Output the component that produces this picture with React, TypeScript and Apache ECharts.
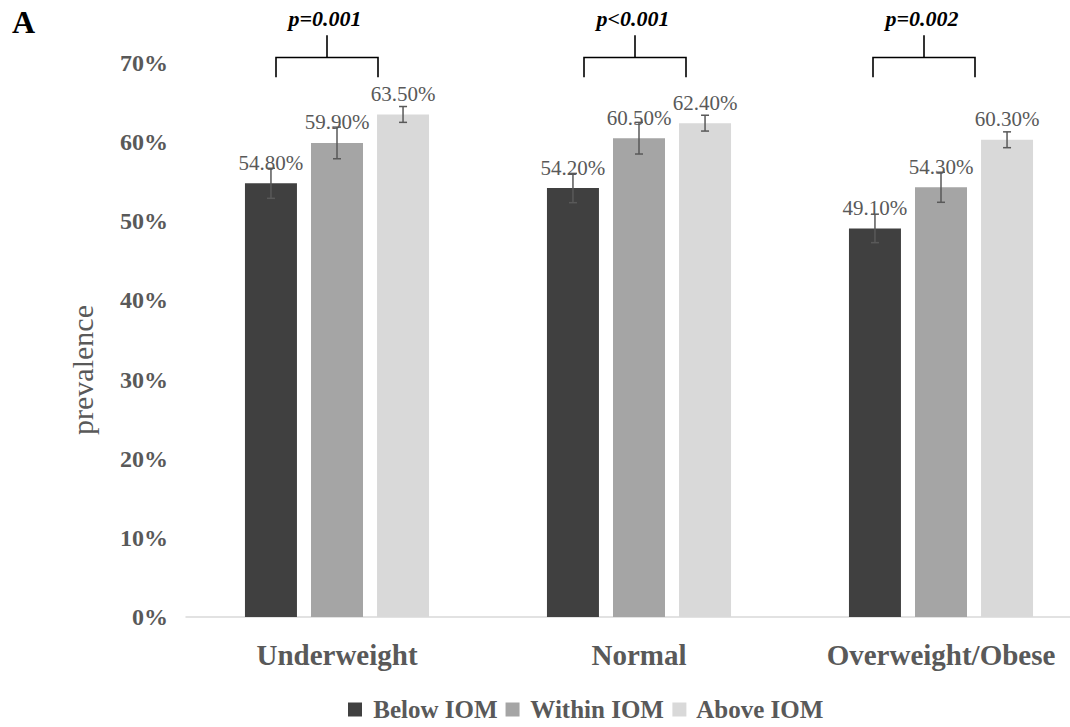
import React, { useEffect, useRef } from "react";
import * as echarts from "echarts";

const categories = ["Underweight", "Normal", "Overweight/Obese"];
const seriesNames = ["Below IOM", "Within IOM", "Above IOM"];
const belowIOM = [54.8, 54.2, 49.1];
const withinIOM = [59.9, 60.5, 54.3];
const aboveIOM = [63.5, 62.4, 60.3];
const belowErr = [1.9, 1.85, 1.8];
const withinErr = [2.0, 2.0, 1.9];
const aboveErr = [1.0, 1.0, 1.0];
const pLabels = ["p=0.001", "p<0.001", "p=0.002"];
const yTicks = [0, 10, 20, 30, 40, 50, 60, 70];

const colors = ["#404040", "#A5A5A5", "#D9D9D9"];
const SERIF = "'Liberation Serif', 'Times New Roman', 'DejaVu Serif', serif";
const BAR_W = 52;
const BAR_GAP = 0.27;
const BRACKET_SHIFT = [-10, -4, -17];

export default function App() {
  const ref = useRef<HTMLDivElement>(null);
  useEffect(() => {
    if (!ref.current) return;
    const chart = echarts.init(ref.current, undefined, { renderer: "svg" });
    const values = [belowIOM, withinIOM, aboveIOM];
    const errs = [belowErr, withinErr, aboveErr];

    const barSeries = values.map((vals, i) => ({
      name: seriesNames[i],
      type: "bar",
      data: vals,
      barWidth: BAR_W,
      barGap: BAR_GAP * 100 + "%",
      barCategoryGap: "39%",
      itemStyle: { color: colors[i] },
      label: {
        show: true,
        position: "top",
        distance: 10,
        formatter: (p: any) => p.value.toFixed(2) + "%",
        fontFamily: SERIF,
        fontSize: 21,
        color: "#595959",
      },
      z: 2,
    }));

    const errSeries = errs.map((er, i) => ({
      name: "err" + i,
      type: "custom",
      data: er.map((e, c) => [c, values[i][c], e]),
      z: 5,
      renderItem: (params: any, api: any) => {
        const c = api.value(0);
        const v = api.value(1);
        const e = api.value(2);
        const top = api.coord([c, v + e]);
        const bot = api.coord([c, v - e]);
        const x = top[0] + (i - 1) * BAR_W * (1 + BAR_GAP);
        const style = { stroke: "#595959", lineWidth: 1.5 };
        const cap = 4;
        return {
          type: "group",
          children: [
            { type: "line", shape: { x1: x, y1: top[1], x2: x, y2: bot[1] }, style },
            { type: "line", shape: { x1: x - cap, y1: top[1], x2: x + cap, y2: top[1] }, style },
            { type: "line", shape: { x1: x - cap, y1: bot[1], x2: x + cap, y2: bot[1] }, style },
          ],
        };
      },
    }));

    const bracketSeries = {
      name: "brackets",
      type: "custom",
      data: categories.map((_, c) => [c, 70.7]),
      z: 6,
      clip: false,
      renderItem: (params: any, api: any) => {
        const c = api.value(0);
        const h = api.coord([c, api.value(1)]);
        const low = api.coord([c, 68.2]);
        const hi = api.coord([c, 73.5]);
        const txt = api.coord([c, 75.6]);
        const cx = h[0] + BRACKET_SHIFT[params.dataIndex];
        const half = 51;
        const style = { stroke: "#000000", lineWidth: 1.6, fill: "none" };
        return {
          type: "group",
          children: [
            { type: "polyline", shape: { points: [[cx - half, low[1]], [cx - half, h[1]], [cx + half, h[1]], [cx + half, low[1]]] }, style },
            { type: "line", shape: { x1: cx, y1: h[1], x2: cx, y2: hi[1] }, style },
            {
              type: "text",
              style: {
                text: pLabels[params.dataIndex],
                x: cx - 2,
                y: txt[1],
                align: "center",
                verticalAlign: "middle",
                fontFamily: SERIF,
                fontSize: 22,
                fontWeight: "bold",
                fontStyle: "italic",
                fill: "#000000",
              },
            },
          ],
        };
      },
    };

    chart.setOption({
      animation: false,
      backgroundColor: "#ffffff",
      grid: { left: 186, top: 63, right: -22, bottom: 110, outerBoundsMode: "none", containLabel: false },
      legend: {
        data: seriesNames,
        bottom: 0,
        left: 343,
        icon: "rect",
        itemWidth: 14,
        itemHeight: 14,
        itemGap: 8,
        formatter: (n: string) => " " + n,
        textStyle: { fontFamily: SERIF, fontSize: 25, fontWeight: "bold", color: "#595959" },
      },
      graphic: [
        {
          type: "text",
          left: 12,
          top: 6,
          style: { text: "A", fontFamily: SERIF, fontSize: 32, fontWeight: "bold", fill: "#000000" },
        },
        {
          type: "text",
          x: 82,
          y: 370,
          rotation: Math.PI / 2,
          style: {
            text: "prevalence",
            x: 0,
            y: 0,
            align: "center",
            verticalAlign: "middle",
            fontFamily: SERIF,
            fontSize: 30,
            fill: "#595959",
          },
        },
      ],
      xAxis: {
        type: "category",
        data: categories,
        axisLine: { show: true, lineStyle: { color: "#D9D9D9", width: 1.5 } },
        axisTick: { show: false },
        axisLabel: { margin: 23, fontFamily: SERIF, fontSize: 29, fontWeight: "bold", color: "#595959" },
      },
      yAxis: {
        type: "value",
        min: yTicks[0],
        max: yTicks[yTicks.length - 1],
        interval: 10,
        axisLine: { show: false },
        axisTick: { show: false },
        splitLine: { show: false },
        axisLabel: {
          margin: 18,
          formatter: (v: number) => v + "%",
          fontFamily: SERIF,
          fontSize: 24,
          fontWeight: "bold",
          color: "#595959",
        },
      },
      series: [...barSeries, ...errSeries, bracketSeries],
    });
    return () => chart.dispose();
  }, []);
  return (
    <div
      ref={ref}
      style={{ position: "fixed", left: 0, top: 0, width: 1070, height: 727 }}
    />
  );
}
